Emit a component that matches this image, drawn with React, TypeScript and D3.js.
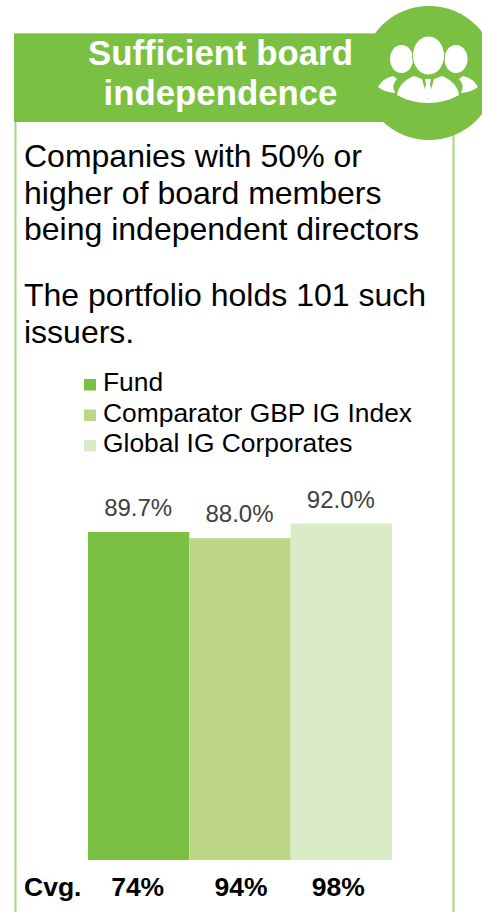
import React from "react";
import * as d3 from "d3";

const categories = ["Fund", "Comparator GBP IG Index", "Global IG Corporates"];
const values = [89.7, 88.0, 92.0];
const coverage = ["74%", "94%", "98%"];
const colors = ["#7AC143", "#BCD685", "#D9ECC7"];
const titleLines = ["Sufficient board", "independence"];
const bodyLines = [
  "Companies with 50% or",
  "higher of board members",
  "being independent directors",
];
const portfolioLines = ["The portfolio holds 101 such", "issuers."];

const FONT = "'Liberation Sans', Arial, sans-serif";
const GREEN = "#7AC143";

const App = () => {
  const x = d3.scaleBand().domain(categories).range([88, 392]).padding(0);
  const y = d3.scaleLinear().domain([0, 100]).range([860, 494.3]);
  // coverage labels sit a little off the bar centres in the original
  const cvgOffset = [-1, 1, -3];

  return (
    <svg
      width={482}
      height={912}
      style={{ position: "absolute", left: 0, top: 0, fontFamily: FONT }}
    >
      {/* box and header */}
      <rect x={15.5} y={34} width={438} height={900} fill="none" stroke="#A5D77E" strokeWidth={2} />
      <rect x={14} y={34} width={380} height={88} fill={GREEN} />
      <circle cx={429} cy={73} r={67} fill={GREEN} />

      {/* people icon */}
      <g fill="#fff">
        <ellipse cx={401.5} cy={59} rx={11.5} ry={14} />
        <ellipse cx={456} cy={59} rx={11.5} ry={14} />
        <path d="M378 87 Q383 78 393 76 L397 79 Q391 85 395 93 Q384 92 378 87 Z" />
        <path d="M478 87 Q473 78 463 76 L459 79 Q465 85 461 93 Q472 92 478 87 Z" />
        <ellipse cx={428.5} cy={55.5} rx={16} ry={19.5} stroke={GREEN} strokeWidth={1} />
        <path d="M397 95 Q399 82 414 76 L422 79 L428 100 L434 79 L442 76 Q457 82 459 95 Q445 103 428 103 Q411 103 397 95 Z" />
        <path d="M425 79 L431 79 L430 84 L432 94 L428 99 L424 94 L426 84 Z" />
      </g>

      {titleLines.map((t, i) => (
        <text key={t} x={220.5} y={65 + i * 40} textAnchor="middle" fontSize={34.8} fontWeight="bold" fill="#fff">
          {t}
        </text>
      ))}
      {bodyLines.map((t, i) => (
        <text key={t} x={24} y={167 + i * 36.5} fontSize={32} fill="#000">
          {t}
        </text>
      ))}
      {portfolioLines.map((t, i) => (
        <text key={t} x={24} y={306 + i * 36.5} fontSize={32} fill="#000">
          {t}
        </text>
      ))}

      {/* legend */}
      {categories.map((c, i) => (
        <g key={c}>
          <rect x={84} y={379 + i * 30.5} width={12} height={11.5} fill={colors[i]} />
          <text x={103} y={391 + i * 30.5} fontSize={26.4} fill="#000">
            {c}
          </text>
        </g>
      ))}

      {/* bars */}
      {categories.map((c, i) => (
        <g key={c}>
          <rect
            x={x(c)}
            y={y(values[i])}
            width={x.bandwidth()}
            height={y(0) - y(values[i])}
            fill={colors[i]}
          />
          <text
            x={x(c)! + x.bandwidth() / 2 - 0.5}
            y={y(values[i]) - 16}
            textAnchor="middle"
            fontSize={24}
            fill="#404040"
          >
            {d3.format(".1f")(values[i])}%
          </text>
        </g>
      ))}

      {/* coverage row */}
      <text x={24} y={896} fontSize={26.5} fontWeight="bold" fill="#000">
        Cvg.
      </text>
      {categories.map((c, i) => (
        <text
          key={c}
          x={x(c)! + x.bandwidth() / 2 + cvgOffset[i]}
          y={896}
          textAnchor="middle"
          fontSize={26.5}
          fontWeight="bold"
          fill="#000"
        >
          {coverage[i]}
        </text>
      ))}
    </svg>
  );
};

export default App;
